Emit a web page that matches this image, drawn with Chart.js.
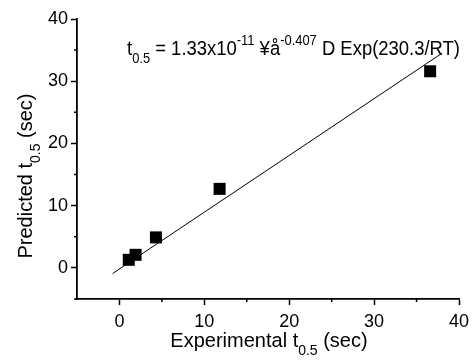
<!DOCTYPE html>
<html>
<head>
<meta charset="utf-8">
<script src="https://cdn.jsdelivr.net/npm/chart.js@4"></script>
<style>
  html, body { margin: 0; padding: 0; background: #fff; }
  #wrap { width: 476px; height: 362px; }
</style>
</head>
<body>
<div id="wrap"><canvas id="chart" width="476" height="362"></canvas></div>
<script>
// measured points (experimental vs predicted t0.5)
const expT = [1.1, 1.9, 4.3, 11.8, 36.6];
const predT = [1.3, 2.1, 4.9, 12.7, 31.6];

// fitted line end points
const fitX = [-0.8, 38.0];
const fitY = [-0.9, 34.5];

const xTicks = [0, 10, 20, 30, 40];
const yTicks = [0, 10, 20, 30, 40];

const FONT = '"Liberation Sans", Arial, sans-serif';

// draw a run of text pieces with sub/superscripts, returns width
function drawRich(ctx, parts, x, y, size, draw) {
    let cx = x;
    parts.forEach(p => {
        const small = p.sub || p.sup;
        const fs = small ? Math.round(size * 0.68) : size;
        ctx.font = fs + 'px ' + FONT;
        const dy = p.sub ? size * 0.42 : (p.sup ? -size * 0.48 : 0);
        if (draw) ctx.fillText(p.t, cx, y + dy);
        cx += ctx.measureText(p.t).width;
    });
    return cx - x;
}

const labelsPlugin = {
    id: 'labels',
    afterDraw(chart) {
        const ctx = chart.ctx;
        const xs = chart.scales.x;
        const ys = chart.scales.y;
        ctx.save();
        ctx.fillStyle = '#000';
        ctx.strokeStyle = '#000';
        ctx.textBaseline = 'alphabetic';
        ctx.textAlign = 'left';

        // minor ticks
        ctx.lineWidth = 1.5;
        ctx.beginPath();
        for (let v = 5; v < 40; v += 10) {
            const px = xs.getPixelForValue(v);
            ctx.moveTo(px, xs.top);
            ctx.lineTo(px, xs.top + 3);
            const py = ys.getPixelForValue(v);
            ctx.moveTo(ys.right, py);
            ctx.lineTo(ys.right - 3, py);
        }
        const pm = ys.getPixelForValue(-5);
        ctx.moveTo(ys.right, pm);
        ctx.lineTo(ys.right - 3, pm);
        ctx.stroke();

        // equation
        const eq = [
            { t: 't' }, { t: '0.5', sub: true },
            { t: ' = 1.33x10' }, { t: '-11', sup: true },
            { t: ' \u00a5\u00e5' }, { t: '-0.407', sup: true },
            { t: ' D Exp(230.3/RT)' }
        ];
        const w = drawRich(ctx, eq, 0, 0, 20, false);
        ctx.save();
        ctx.translate(127, 55);
        ctx.scale(333 / w, 1);
        drawRich(ctx, eq, 0, 0, 20, true);
        ctx.restore();

        // x title
        const xt = [{ t: 'Experimental t' }, { t: '0.5', sub: true }, { t: ' (sec)' }];
        const xw = drawRich(ctx, xt, 0, 0, 20, false);
        drawRich(ctx, xt, 269 - xw / 2, 347, 20, true);

        // y title
        const yt = [{ t: 'Predicted t' }, { t: '0.5', sub: true }, { t: ' (sec)' }];
        const yw = drawRich(ctx, yt, 0, 0, 20, false);
        ctx.save();
        ctx.translate(32, 176);
        ctx.rotate(-Math.PI / 2);
        drawRich(ctx, yt, -yw / 2, 0, 20, true);
        ctx.restore();

        ctx.restore();
    }
};

const majorColor = c => (c.tick && xTicks.includes(c.tick.value)) ? '#000' : 'rgba(0,0,0,0)';
const majorColorY = c => (c.tick && yTicks.includes(c.tick.value)) ? '#000' : 'rgba(0,0,0,0)';

new Chart(document.getElementById('chart'), {
    type: 'scatter',
    data: {
        datasets: [{
            label: 'data',
            data: expT.map((x, i) => ({ x: x, y: predT[i] })),
            pointStyle: 'rect',
            pointRadius: 8.5,
            backgroundColor: '#000',
            borderColor: '#000',
            borderWidth: 0
        }, {
            label: 'fit',
            type: 'line',
            data: fitX.map((x, i) => ({ x: x, y: fitY[i] })),
            borderColor: '#000',
            borderWidth: 1,
            pointRadius: 0,
            fill: false
        }]
    },
    options: {
        responsive: false,
        animation: false,
        layout: { padding: { left: 0, top: 19, right: 17, bottom: 0 } },
        plugins: { legend: { display: false }, tooltip: { enabled: false } },
        scales: {
            x: {
                type: 'linear',
                min: -5, max: 40,
                afterFit: s => { s.height = 63; },
                border: { color: '#000', width: 1.8 },
                grid: { drawOnChartArea: false, tickLength: 6, tickWidth: 1.5, tickColor: majorColor },
                ticks: {
                    stepSize: 5, padding: 6, color: '#000', maxRotation: 0, autoSkip: false,
                    font: { family: FONT, size: 18 },
                    callback: v => xTicks.includes(v) ? v : ''
                }
            },
            y: {
                type: 'linear',
                min: -5, max: 40,
                afterFit: s => { s.width = 77; },
                border: { color: '#000', width: 1.8 },
                grid: { drawOnChartArea: false, tickLength: 6, tickWidth: 1.5, tickColor: majorColorY },
                ticks: {
                    stepSize: 5, padding: 3, color: '#000', autoSkip: false,
                    font: { family: FONT, size: 18 },
                    callback: v => yTicks.includes(v) ? v : ''
                }
            }
        }
    },
    plugins: [labelsPlugin]
});
</script>
</body>
</html>
